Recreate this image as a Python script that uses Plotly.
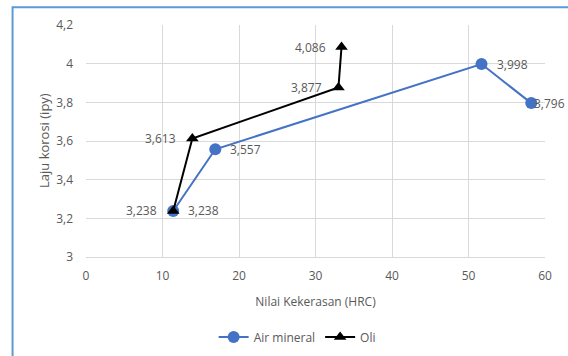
import plotly.graph_objects as go

# Hardness (HRC) vs corrosion rate (ipy) for two quench media
air_x = [11.4, 16.9, 51.7, 58.2]
air_y = [3.238, 3.557, 3.998, 3.796]
oli_x = [11.4, 13.9, 33.0, 33.4]
oli_y = [3.238, 3.613, 3.877, 4.086]

x_ticks = [0, 10, 20, 30, 40, 50, 60]
y_ticks = [3, 3.2, 3.4, 3.6, 3.8, 4, 4.2]

font_family = "Open Sans, Liberation Sans, sans-serif"
grey = "#595959"


def fmt(v):
    return f"{v:.3f}".replace(".", ",")


fig = go.Figure()

fig.add_trace(go.Scatter(
    x=air_x, y=air_y, name="Air mineral",
    mode="lines+markers",
    line=dict(color="#4472C4", width=2),
    marker=dict(symbol="circle", size=12, color="#4472C4"),
    cliponaxis=False,
))

fig.add_trace(go.Scatter(
    x=oli_x, y=oli_y, name="Oli",
    mode="lines+markers",
    line=dict(color="black", width=2),
    marker=dict(symbol="triangle-up", size=11, color="black"),
    cliponaxis=False,
))

# Value labels: mineral water to the right, oil to the left
air_shift = [13, 13, 13, 1]
for xv, yv, sh in zip(air_x, air_y, air_shift):
    fig.add_annotation(
        x=xv, y=yv, text=fmt(yv), showarrow=False,
        xanchor="left", yanchor="middle", xshift=sh,
        font=dict(size=12, color=grey, family=font_family),
    )
for xv, yv in zip(oli_x, oli_y):
    fig.add_annotation(
        x=xv, y=yv, text=fmt(yv), showarrow=False,
        xanchor="right", yanchor="middle", xshift=-14,
        font=dict(size=12, color=grey, family=font_family),
    )

# Y-axis title
fig.add_annotation(
    xref="paper", yref="paper", x=-0.0915, y=0.5,
    text="Laju korosi (ipy)", textangle=-90, showarrow=False,
    xanchor="center", yanchor="middle",
    font=dict(size=13, color=grey, family=font_family),
)

# Outer chart frame
fig.add_shape(
    type="rect", xref="paper", yref="paper",
    x0=-0.160, x1=1.2, y0=-0.6, y1=1.077,
    line=dict(color="#5B9BD5", width=2), layer="below",
)

fig.update_layout(
    width=568, height=356,
    margin=dict(l=86, r=23, t=25, b=99, autoexpand=False),
    paper_bgcolor="white", plot_bgcolor="white",
    separators=",.",
    font=dict(family=font_family, size=11, color=grey),
    showlegend=True,
    legend=dict(
        orientation="h", x=0.46, xanchor="center", y=-0.345, yanchor="middle",
        font=dict(size=12, color=grey), itemwidth=30,
    ),
    xaxis=dict(
        range=[0, 60], tickvals=x_ticks, showgrid=True, gridcolor="#D9D9D9",
        zeroline=False, showline=True, linecolor="#D9D9D9", ticks="",
        ticklabelstandoff=8, automargin=False,
        title=dict(text="Nilai Kekerasan (HRC)", font=dict(size=12, color=grey), standoff=14),
        tickfont=dict(size=12, color=grey),
    ),
    yaxis=dict(
        range=[3, 4.2], tickvals=y_ticks, showgrid=True, gridcolor="#D9D9D9",
        zeroline=False, showline=False, ticks="",
        ticklabelstandoff=12, automargin=False,
        tickfont=dict(size=12, color=grey),
    ),
)

fig.write_html("out.html")
